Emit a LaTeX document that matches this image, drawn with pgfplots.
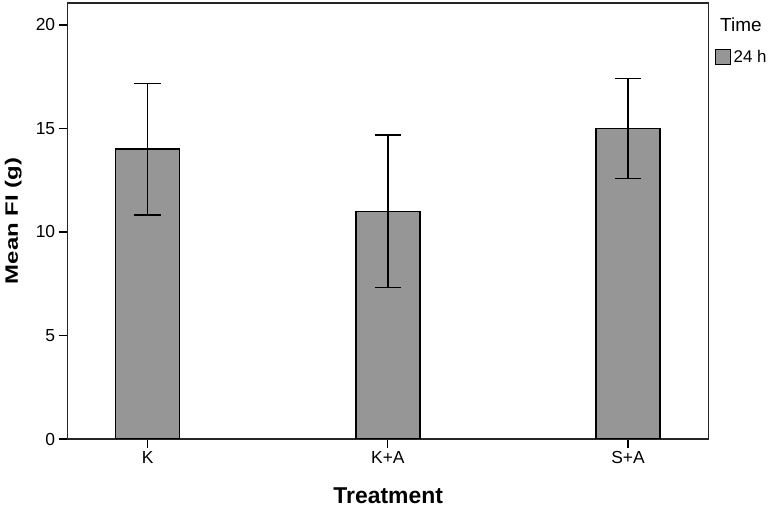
\documentclass[border=0pt]{standalone}
\usepackage{pgfplots}
\pgfplotsset{compat=1.18}
\usepackage{fontspec}
\setmainfont{Liberation Sans}
\definecolor{barfill}{RGB}{150,150,150}
\begin{document}
\begin{tikzpicture}
\useasboundingbox (0,0) rectangle (769bp,508bp);
\begin{axis}[
  at={(67.7bp,69bp)}, anchor=south west,
  scale only axis, width=641bp, height=436bp,
  xmin=-0.333, xmax=2.336, ymin=0, ymax=21.06,
  xtick={0,1,2}, xticklabels={K,K+A,S+A},
  ytick={0,5,10,15,20},
  tick align=outside, xtick pos=bottom, ytick pos=left,
  major tick length=9bp,
  axis line style={line width=1.1bp, black!85},
  tick style={line width=1.2bp, black},
  ticklabel style={font=\fontsize{17.5}{17.5}\selectfont},
  /pgf/number format/assume math mode=true,
  ylabel={\scalebox{1}[0.75]{\bfseries Mean FI (g)}},
  ylabel style={at={(axis description cs:-0.085,0.5)}, anchor=center, font=\fontsize{24}{24}\selectfont},
  xlabel={Treatment},
  xlabel style={at={(axis description cs:0.5,-0.131)}, anchor=center, font=\bfseries\fontsize{23}{23}\selectfont},
  ybar, bar width=64bp,
  legend style={at={(axis description cs:1.0098,0.877)}, anchor=west, draw=none, fill=none,
    inner sep=0pt, font=\fontsize{17}{17}\selectfont, nodes={inner sep=1.2bp},
    /tikz/every odd column/.append style={column sep=1bp}},
  legend image code/.code={\draw[fill=barfill,draw=black,line width=1.2bp] (0bp,-7.5bp) rectangle (15bp,7.5bp);},
]
\addplot[fill=barfill, draw=black, line width=1.4bp,
  error bars/.cd, y dir=both, y explicit,
  error bar style={line width=1.5bp, black},
  error mark options={rotate=90, mark size=13.3bp, line width=1.5bp, black}]
  coordinates {(0,14) +- (0,3.18) (1,11) +- (0,3.68) (2,15) +- (0,2.41)};
\addlegendentry{24 h}
\end{axis}
\node[anchor=west, inner sep=0pt, font=\fontsize{19}{19}\selectfont] at (720bp,483bp) {Time};
\end{tikzpicture}
\end{document}
